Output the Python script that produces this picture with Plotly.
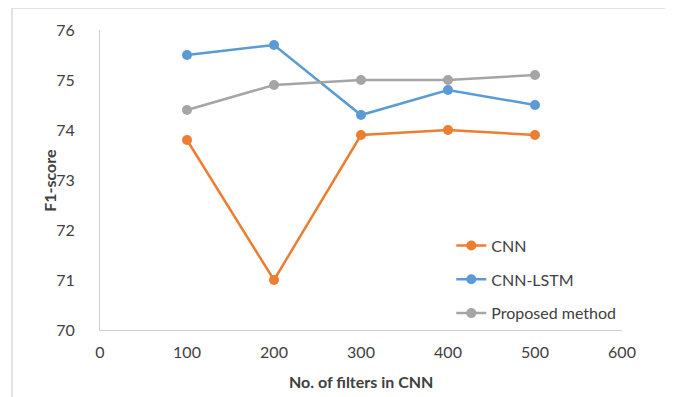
import plotly.graph_objects as go

filters = [100, 200, 300, 400, 500]
cnn = [73.8, 71.0, 73.9, 74.0, 73.9]
cnn_lstm = [75.5, 75.7, 74.3, 74.8, 74.5]
proposed = [74.4, 74.9, 75.0, 75.0, 75.1]

series = [
    ("CNN", cnn, "#ED7D31"),
    ("CNN-LSTM", cnn_lstm, "#5B9BD5"),
    ("Proposed method", proposed, "#A5A5A5"),
]

fig = go.Figure()
for name, vals, col in series:
    fig.add_trace(go.Scatter(
        x=filters, y=vals, name=name, mode="lines+markers",
        line=dict(color=col, width=2.5),
        marker=dict(color=col, size=10),
        legendgroup=name,
    ))

font = "Lato, 'Open Sans', sans-serif"
# page body adds an 8px offset; margins compensate
fig.update_layout(
    width=673, height=397,
    margin=dict(l=92, r=59, t=22, b=75),
    paper_bgcolor="white", plot_bgcolor="white",
    font=dict(family=font, size=16, color="#404040"),
    showlegend=True,
    legend=dict(x=0.673, y=0.338, xanchor="left", yanchor="top",
                bgcolor="rgba(0,0,0,0)", tracegroupgap=10,
                font=dict(size=16, color="#404040")),
    xaxis=dict(range=[0, 600], dtick=100, tick0=0, showgrid=False,
               showline=True, linecolor="#D0D0D0", linewidth=1,
               ticks="", zeroline=False, automargin=False,
               ticklabelstandoff=8),
    yaxis=dict(range=[70, 76], dtick=1, showgrid=False,
               showline=True, linecolor="#D0D0D0", linewidth=1,
               ticks="", zeroline=False, ticklabelstandoff=21,
               automargin=False),
    annotations=[
        dict(text="<b>No. of filters in CNN</b>", xref="paper", yref="paper",
             x=0.5, y=-0.173, xanchor="center", yanchor="middle",
             showarrow=False, font=dict(size=16, color="#404040")),
        dict(text="<b>F1-score</b>", xref="paper", yref="paper",
             x=-0.098, y=0.5, xanchor="center", yanchor="middle",
             textangle=-90, showarrow=False,
             font=dict(size=16, color="#404040")),
    ],
    shapes=[dict(type="rect", xref="paper", yref="paper",
                 x0=-0.1686, x1=1.088, y0=-0.3, y1=1.0733,
                 line=dict(color="#D9D9D9", width=1.5), layer="below")],
)

fig.write_html("out.html")
